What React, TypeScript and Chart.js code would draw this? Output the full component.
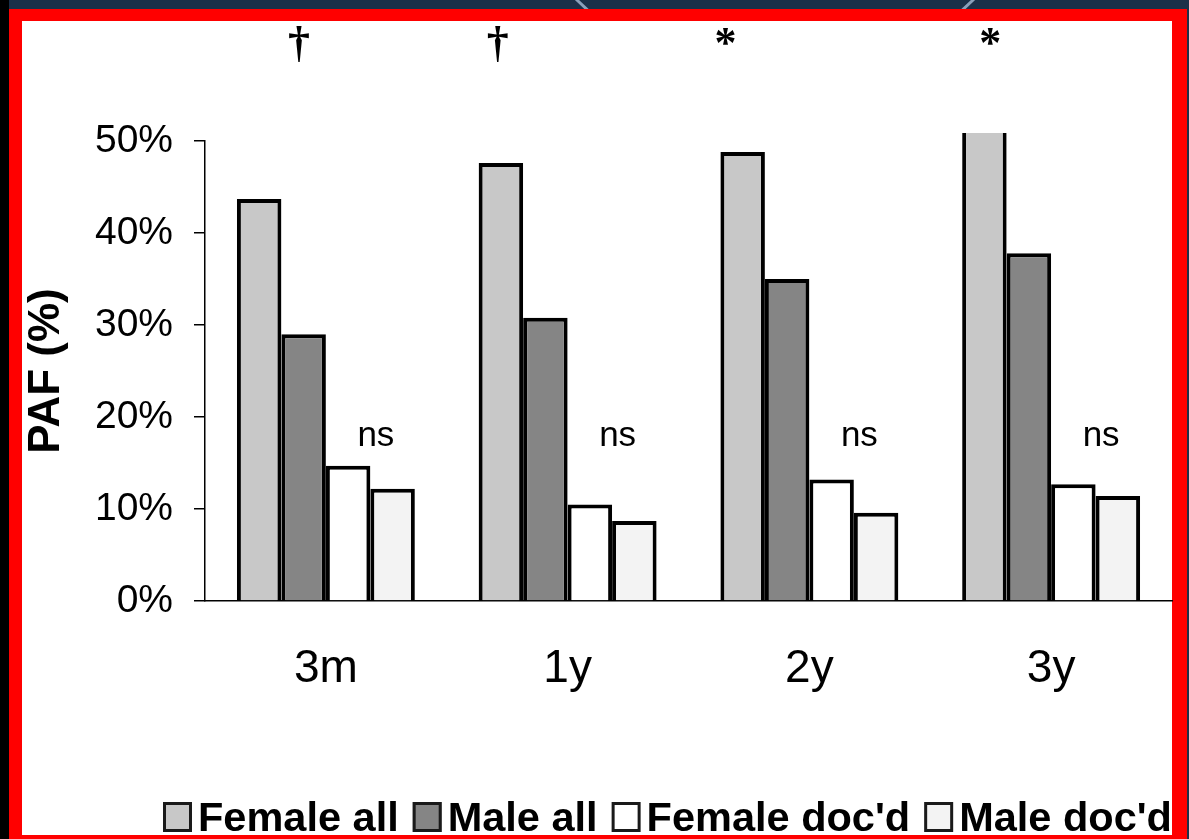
import { useEffect, useRef } from 'react';
import { Chart, registerables } from 'chart.js';

Chart.register(...registerables);

// Follow-up periods
const periods = ['3m', '1y', '2y', '3y'];

// PAF (%) per group and period
const femaleAll = [43.7, 47.6, 48.8, 51.5];
const maleAll = [29.0, 30.8, 35.0, 37.8];
const femaleDocd = [14.7, 10.5, 13.2, 12.7];
const maleDocd = [12.2, 8.7, 9.6, 11.4];

const seriesNames = ['Female all', 'Male all', "Female doc'd", "Male doc'd"];

// Y axis range / step
const yMin = 0;
const yMax = 50;
const yStep = 10;

// Significance markers above each period, and the label over the doc'd pair
const sigMarks = ['\u2020', '\u2020', '*', '*'];
const pairLabels = ['ns', 'ns', 'ns', 'ns'];

// Placement of the annotation text relative to each category centre (px)
const sigOffsets = [-27, -70, -84, -61];
const pairOffset = 50;
const pairLevel = 17.9;

const fills = ['#c8c8c8', '#858585', '#ffffff', '#f3f3f3'];
const SANS = '"Liberation Sans", Arial, sans-serif';
const SERIF = '"Liberation Serif", "Times New Roman", serif';

const annotations = {
  id: 'annotations',
  afterDatasetsDraw(chart: any) {
    const { ctx, chartArea } = chart;
    const xs = chart.scales.x;
    const ys = chart.scales.y;
    ctx.save();
    ctx.fillStyle = '#000';
    ctx.textAlign = 'center';

    ctx.textBaseline = 'middle';
    ctx.font = `35px ${SANS}`;
    pairLabels.forEach((t, i) => {
      ctx.fillText(t, xs.getPixelForValue(i) + pairOffset, ys.getPixelForValue(pairLevel));
    });

    ctx.textBaseline = 'alphabetic';
    ctx.font = `bold 44px ${SERIF}`;
    sigMarks.forEach((t, i) => {
      ctx.fillText(t, xs.getPixelForValue(i) + sigOffsets[i], chartArea.top - 84);
    });
    ctx.restore();
  },
};

const bottomLegend = {
  id: 'bottomLegend',
  afterDraw(chart: any) {
    const { ctx } = chart;
    ctx.save();
    ctx.font = `bold 41.5px ${SANS}`;
    ctx.textBaseline = 'alphabetic';
    ctx.textAlign = 'left';
    let x = 163;
    const base = 831;
    chart.data.datasets.forEach((ds: any) => {
      ctx.fillStyle = ds.backgroundColor;
      ctx.fillRect(x, 802, 29, 30);
      ctx.lineWidth = 3;
      ctx.strokeStyle = '#1a1a1a';
      ctx.strokeRect(x + 1.5, 803.5, 26, 27);
      x += 29 + 6;
      ctx.fillStyle = '#000';
      ctx.fillText(ds.label, x, base);
      x += ctx.measureText(ds.label).width + 14;
    });
    ctx.restore();
  },
};

export default function App() {
  const canvasRef = useRef<HTMLCanvasElement | null>(null);

  useEffect(() => {
    if (!canvasRef.current) return;
    const values = [femaleAll, maleAll, femaleDocd, maleDocd];
    const chart = new Chart(canvasRef.current, {
      type: 'bar',
      data: {
        labels: periods,
        datasets: values.map((v, i) => ({
          label: seriesNames[i],
          data: v,
          backgroundColor: fills[i],
          borderColor: '#000',
          borderWidth: 4,
          barPercentage: 1,
          categoryPercentage: 0.736,
          clip: 8,
        })),
      },
      options: {
        animation: false,
        responsive: true,
        maintainAspectRatio: false,
        layout: { padding: { top: 141, right: 17, bottom: 0, left: 0 } },
        plugins: {
          legend: { display: false },
          tooltip: { enabled: false },
        },
        scales: {
          x: {
            grid: { display: false, drawTicks: false },
            border: { display: true, color: '#000', width: 1.5 },
            ticks: {
              color: '#000',
              font: { family: SANS, size: 46 },
              padding: 41,
              maxRotation: 0,
            },
            afterFit: (s: any) => {
              s.height = 238;
            },
          },
          y: {
            min: yMin,
            max: yMax,
            ticks: {
              stepSize: yStep,
              color: '#000',
              padding: 21,
              font: { family: SANS, size: 39 },
              callback: (v: any) => `${v}%`,
            },
            grid: {
              display: true,
              drawOnChartArea: false,
              drawTicks: true,
              tickLength: 11,
              color: '#000',
              lineWidth: 1.5,
            },
            border: { display: true, color: '#000', width: 1.5 },
            title: {
              display: true,
              text: 'PAF (%)',
              color: '#000',
              font: { family: SANS, size: 44, weight: 'bold' },
              padding: { top: 20, bottom: 0 },
            },
            afterFit: (s: any) => {
              s.width = 205;
            },
          },
        },
      },
      plugins: [annotations, bottomLegend],
    });
    return () => chart.destroy();
  }, []);

  return (
    <div
      style={{
        position: 'fixed',
        left: 0,
        top: 0,
        width: 1189,
        height: 839,
        background: '#1b3049',
        overflow: 'hidden',
      }}
    >
      <div style={{ position: 'absolute', left: 0, top: 0, width: 9, height: 839, background: '#000' }} />
      <div
        style={{
          position: 'absolute',
          left: 775 - 283,
          top: -200 - 283,
          width: 566,
          height: 566,
          borderRadius: '50%',
          border: '3px solid #8aa0bb',
          boxSizing: 'border-box',
        }}
      />
      <div
        style={{
          position: 'absolute',
          left: 9,
          top: 9,
          width: 1178,
          height: 830,
          boxSizing: 'border-box',
          borderStyle: 'solid',
          borderColor: '#ff0000',
          borderWidth: '12px 15px 4px 13px',
          background: '#fff',
        }}
      />
      <div style={{ position: 'absolute', left: 0, top: 0, width: 1189, height: 839 }}>
        <canvas ref={canvasRef} />
      </div>
    </div>
  );
}
